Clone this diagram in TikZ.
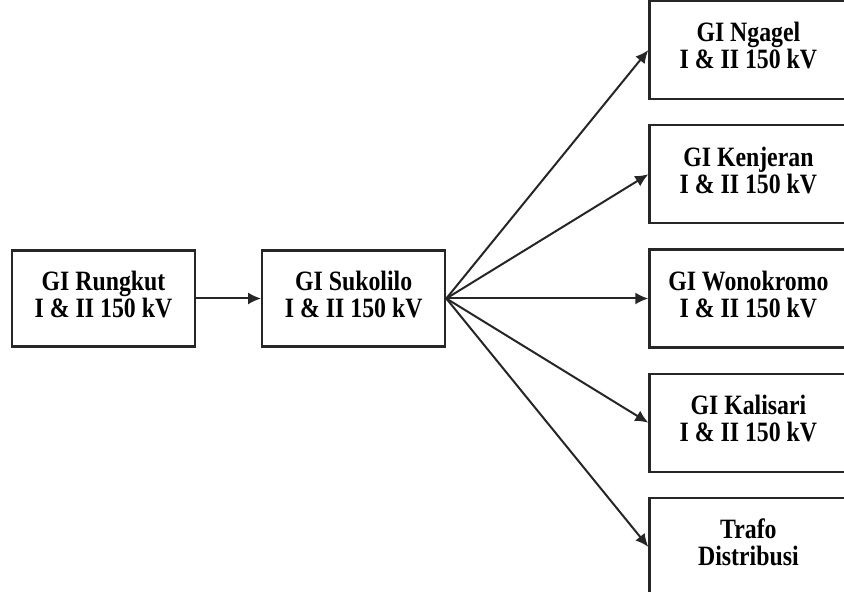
\documentclass[tikz,border=0pt]{standalone}
\usepackage{fontspec}
\setmainfont[FakeStretch=0.85]{Liberation Serif}
\usetikzlibrary{arrows.meta, positioning}
\tikzset{
  station/.style={rectangle, draw=black!85, line width=1.1pt,
    minimum width=91.5pt, minimum height=48pt, inner sep=0pt,
    text centered, align=center,
    font=\fontsize{14}{13.5}\selectfont\bfseries},
  target/.style={station, minimum width=99pt, minimum height=49pt},
  arr/.style={-{Latex[length=6.5pt, width=6pt]}, line width=1pt, draw=black!85},
}
\begin{document}
\begin{tikzpicture}[x=0.5pt, y=-0.5pt, node distance=12pt and 32.5pt]
\useasboundingbox (0,0) rectangle (844,592);

\node (rungkut) [station] at (103.5,298.5)
  {GI Rungkut\\I \& II 150 kV\\[-9pt]\mbox{}};

\node (sukolilo) [station, right=of rungkut]
  {GI Sukolilo\\I \& II 150 kV\\[-9pt]\mbox{}};

\node (wonokromo) [target, right=101pt of sukolilo]
  {GI Wonokromo\\I \& II 150 kV\\[-9pt]\mbox{}};

\node (kenjeran) [target, above=of wonokromo]
  {GI Kenjeran\\I \& II 150 kV\\[-9pt]\mbox{}};

\node (ngagel) [target, above=of kenjeran]
  {GI Ngagel\\I \& II 150 kV\\[-9pt]\mbox{}};

\node (kalisari) [target, below=of wonokromo]
  {GI Kalisari\\I \& II 150 kV\\[-9pt]\mbox{}};

\node (trafo) [target, below=of kalisari]
  {Trafo\\Distribusi\\[-9pt]\mbox{}};

\draw[arr] (rungkut)  -- (sukolilo);

\draw[arr] (sukolilo.east) -- (ngagel.west);
\draw[arr] (sukolilo.east) -- (kenjeran.west);
\draw[arr] (sukolilo.east) -- (wonokromo.west);
\draw[arr] (sukolilo.east) -- (kalisari.west);
\draw[arr] (sukolilo.east) -- (trafo.west);

\end{tikzpicture}
\end{document}
